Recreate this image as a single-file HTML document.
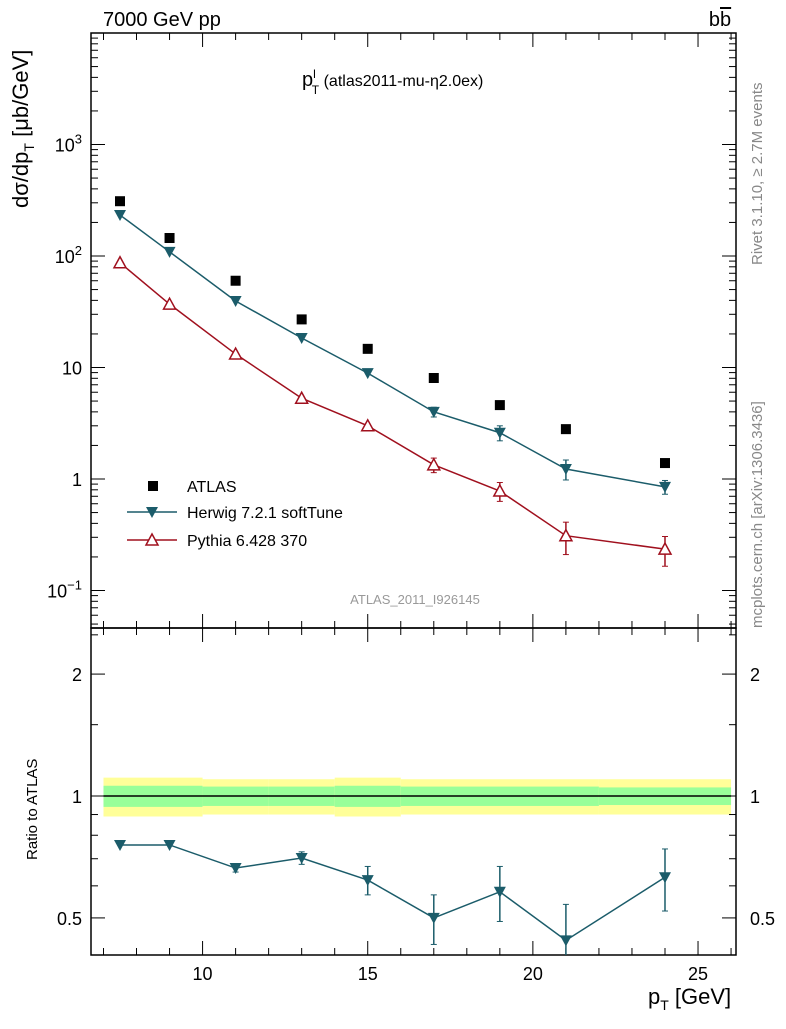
<!DOCTYPE html>
<html><head><meta charset="utf-8"><style>
body{margin:0;background:#fff;}
svg text{font-family:"Liberation Sans",sans-serif;}
</style></head><body>
<svg id="c" width="786" height="1024" xmlns="http://www.w3.org/2000/svg">
<defs><clipPath id="rc"><rect x="91" y="628" width="645" height="327"/></clipPath><clipPath id="mc"><rect x="91" y="33" width="645" height="595"/></clipPath></defs>
</svg>
<script>
const xs=[7.5,9,11,13,15,17,19,21,24];
const atlas=[310,145,60,27,14.7,8.05,4.6,2.8,1.39];
const herwig=[233,109,39.5,18.4,8.9,4.0,2.6,1.23,0.85];
const herwigErr=[0,0,0,0,0,0.4,0.4,0.25,0.12];
const pythia=[87,37,13.2,5.3,3.0,1.34,0.78,0.31,0.235];
const pythiaErr=[0,0,0,0,0,0.2,0.15,0.1,0.07];
const ratio=[0.757,0.757,0.664,0.703,0.62,0.50,0.58,0.44,0.63];
const ratioErr=[0,0,0.015,0.025,0.05,0.07,0.09,0.1,0.11];
const binEdges=[7,10,12,14,16,22,26];
const green=[0.06,0.055,0.055,0.06,0.055,0.05];
const yellow=[0.11,0.1,0.1,0.11,0.1,0.1];
const xTicks=[10,15,20,25];
const NS="http://www.w3.org/2000/svg",svg=document.getElementById('c');
function X(v){return 120+(v-7.5)*33.03;}
function Y(v){return 479-Math.log10(v)*111.5;}
function R(v){return 796-Math.log10(v)*405;}
function el(t,a,p){const e=document.createElementNS(NS,t);for(const k in a)e.setAttribute(k,a[k]);(p||svg).appendChild(e);return e;}
function txt(s,x,y,a){const e=el('text',Object.assign({x:x,y:y,'font-size':18},a||{}));e.innerHTML=s;return e;}
const L=91,Rr=736,T1=33,B1=628,B2=955;
for(let i=0;i<binEdges.length-1;i++){
 const b=el('rect',{x:X(binEdges[i]),y:R(1+yellow[i]),width:X(binEdges[i+1])-X(binEdges[i]),height:R(1-yellow[i])-R(1+yellow[i]),fill:'#ffff99'});
 
 
 const g=el('rect',{x:X(binEdges[i]),y:R(1+green[i]),width:X(binEdges[i+1])-X(binEdges[i]),height:R(1-green[i])-R(1+green[i]),fill:'#99ff99'});
 
 
}
el('line',{x1:X(7),x2:X(26),y1:R(1),y2:R(1),stroke:'#000','stroke-width':1.5});
el('rect',{x:L,y:T1,width:Rr-L,height:B1-T1,fill:'none',stroke:'#000','stroke-width':1.5});
el('rect',{x:L,y:B1,width:Rr-L,height:B2-B1,fill:'none',stroke:'#000','stroke-width':1.5});
for(let v=7;v<=26;v++){const big=v%5==0,l=big?14:7;
 for(const [t,b] of [[T1,B1],[B1,B2]]){el('line',{x1:X(v),x2:X(v),y1:b,y2:b-l,stroke:'#000'});el('line',{x1:X(v),x2:X(v),y1:t,y2:t+l,stroke:'#000'});}}
xTicks.forEach(v=>{const t=txt(v,X(v),980,{'text-anchor':'middle'});});
for(let d=-2;d<4;d++)for(let m=1;m<10;m++){const v=m*Math.pow(10,d),y=Y(v);if(y<T1||y>B1)continue;const l=m==1?14:7;
 el('line',{x1:L,x2:L+l,y1:y,y2:y,stroke:'#000'});el('line',{x1:Rr,x2:Rr-l,y1:y,y2:y,stroke:'#000'});}
const yl=[[-1,'10<tspan dy="-8" font-size="13">−1</tspan>'],[0,'1'],[1,'10'],[2,'10<tspan dy="-8" font-size="13">2</tspan>'],[3,'10<tspan dy="-8" font-size="13">3</tspan>']];
yl.forEach(([d,s])=>txt(s,82,Y(Math.pow(10,d))+7,{'text-anchor':'end'}));
[0.5,0.6,0.7,0.8,0.9,1,1.5,2,2.5].forEach(v=>{const y=R(v),l=[0.5,1,2].includes(v)?14:7;
 el('line',{x1:L,x2:L+l,y1:y,y2:y,stroke:'#000'});el('line',{x1:Rr,x2:Rr-l,y1:y,y2:y,stroke:'#000'});});
[[0.5,'0.5'],[1,'1'],[2,'2']].forEach(([v,s])=>{txt(s,82,R(v)+7,{'text-anchor':'end'});txt(s,750,R(v)+7,{});});
function series(vals,err,col,fn,name,filled,clip){
 const g=el('g',{'clip-path':clip});
 el('polyline',{points:xs.map((x,i)=>X(x)+','+fn(vals[i])).join(' '),fill:'none',stroke:col,'stroke-width':1.5},g);
 xs.forEach((x,i)=>{const cx=X(x),cy=fn(vals[i]);
  if(err[i]>0){const y1=fn(vals[i]+err[i]),y2=fn(Math.max(vals[i]-err[i],1e-3));
   el('line',{x1:cx,x2:cx,y1:y1,y2:y2,stroke:col,'stroke-width':1.5},g);
   el('line',{x1:cx-3,x2:cx+3,y1:y1,y2:y1,stroke:col},g);el('line',{x1:cx-3,x2:cx+3,y1:y2,y2:y2,stroke:col},g);}
  if(filled)el('polygon',{points:`${cx-6},${cy-5} ${cx+6},${cy-5} ${cx},${cy+6}`,fill:col},g);
  else el('polygon',{points:`${cx-6},${cy+5} ${cx+6},${cy+5} ${cx},${cy-6}`,fill:'#fff',stroke:col,'stroke-width':1.5},g);});
}
series(pythia,pythiaErr,'#a0101e',Y,'pythia-series',false,'url(#mc)');
series(herwig,herwigErr,'#1b5c6a',Y,'herwig-series',true,'url(#mc)');
series(ratio,ratioErr,'#1b5c6a',R,'herwig-ratio-series',true,'url(#rc)');
const ag=el('g',{});
xs.forEach((x,i)=>el('rect',{x:X(x)-5,y:Y(atlas[i])-5,width:10,height:10,fill:'#000'},ag));
el('rect',{x:148,y:481,width:10,height:10,fill:'#000'});txt('ATLAS',187,492,{'font-size':16});
el('line',{x1:127,x2:177,y1:512,y2:512,stroke:'#1b5c6a','stroke-width':1.5});el('polygon',{points:'146,507 158,507 152,518',fill:'#1b5c6a'});
txt('Herwig 7.2.1 softTune',187,518,{'font-size':16});
el('line',{x1:127,x2:177,y1:540,y2:540,stroke:'#a0101e','stroke-width':1.5});el('polygon',{points:'146,545 158,545 152,534',fill:'#fff',stroke:'#a0101e','stroke-width':1.5});
txt('Pythia 6.428 370',187,546,{'font-size':16});
txt('7000 GeV pp',103,26,{'font-size':20});
txt('b<tspan text-decoration="overline">b</tspan>',720,26,{'font-size':20,'text-anchor':'middle'});
txt('p<tspan dy="-8" font-size="12">l</tspan><tspan dy="16" dx="-4" font-size="12">T</tspan><tspan dy="-8" font-size="16"> (atlas2011-mu-η2.0ex)</tspan>',302,86,{'font-size':20});
txt('ATLAS_2011_I926145',415,604,{'font-size':13,fill:'#999','text-anchor':'middle'});
txt('p<tspan dy="6" font-size="14">T</tspan><tspan dy="-6"> [GeV]</tspan>',648,1004,{'font-size':22});
txt('dσ/dp<tspan dy="6" font-size="14">T</tspan><tspan dy="-6"> [μb/GeV]</tspan>',0,0,{'font-size':22,transform:'translate(28,208) rotate(-90)'});
txt('Ratio to ATLAS',0,0,{'font-size':15,transform:'translate(37,860) rotate(-90)'});
txt('Rivet 3.1.10, ≥ 2.7M events',0,0,{'font-size':15,fill:'#888',transform:'translate(762,265) rotate(-90)'});
txt('mcplots.cern.ch [arXiv:1306.3436]',0,0,{'font-size':15,fill:'#888',transform:'translate(762,628) rotate(-90)'});
</script>
</body></html>
